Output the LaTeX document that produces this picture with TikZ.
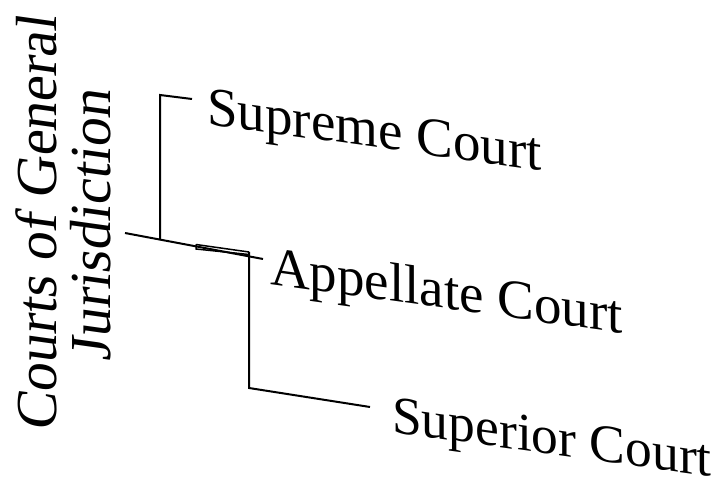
\documentclass[tikz,border=0pt]{standalone}
\usepackage{fontspec}
\setmainfont{Liberation Serif}
\begin{document}
\begin{tikzpicture}[x=1pt,y=-1pt,
  edge/.style={line width=2pt,black},
  court/.style={inner sep=0pt,anchor=base west,text depth=0pt,yslant=-0.14,font=\fontsize{55}{60}\selectfont},
  side/.style={inner sep=0pt,anchor=base,text depth=0pt,yslant=-0.14,rotate=90,font=\fontsize{58}{60}\selectfont}]
\useasboundingbox (0,0) rectangle (723,481);
% labels
\node[side] (gen1) at (56,224) {Courts of General};
\node[side] (gen2) at (110,226) {Jurisdiction};
\node[court] (sup) at (207,124) {Supreme Court};
\node[court] (app) at (270,284) {Appellate Court};
\node[court,font=\fontsize{53.5}{60}\selectfont] (spr) at (392,432) {Superior Court};
% connectors
\coordinate (root) at (125,233);
\coordinate (mainend) at (263,259);
\coordinate (j1) at (160,239);
\coordinate (c1) at (160,95);
\coordinate (e1) at (192,99);
\coordinate (j2) at (249,252);
\coordinate (c2) at (249,388);
\coordinate (e2) at (370,407);
\draw[edge] (root) -- (mainend);
\draw[edge] (j1) -- (c1) -- (e1);
\draw[edge] (j2) -- (c2) -- (e2);
\draw[edge,line width=1.5pt] (196,244.5) -- (196,249) -- (249,254.5);
\draw[edge,line width=1.5pt] (196,244.5) -- (249,252);
\end{tikzpicture}
\end{document}
